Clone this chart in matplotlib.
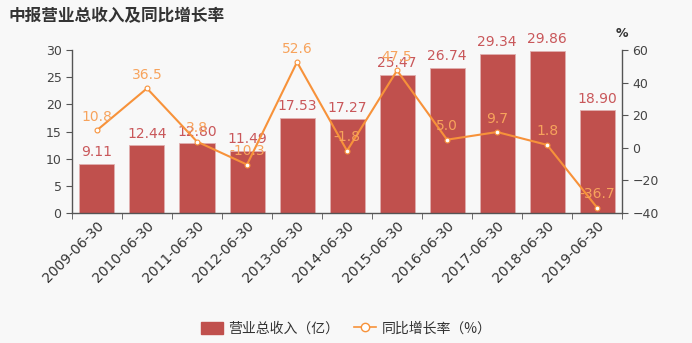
import matplotlib.pyplot as plt
import numpy as np
from matplotlib.patches import Patch
from matplotlib.lines import Line2D

plt.rcParams['font.family'] = ['Noto Sans CJK SC', 'DejaVu Sans']

dates = ["2009-06-30", "2010-06-30", "2011-06-30", "2012-06-30", "2013-06-30",
         "2014-06-30", "2015-06-30", "2016-06-30", "2017-06-30", "2018-06-30",
         "2019-06-30"]
revenue = [9.11, 12.44, 12.80, 11.49, 17.53, 17.27, 25.47, 26.74, 29.34, 29.86, 18.90]
growth = [10.8, 36.5, 3.8, -10.3, 52.6, -1.8, 47.5, 5.0, 9.7, 1.8, -36.7]

BAR_COLOR = "#c0504d"
LINE_COLOR = "#f7923a"
BAR_LABEL = "#c9575a"
LINE_LABEL = "#f7a35c"
AXIS_COLOR = "#555555"
BG = "#f8f8f8"

fig = plt.figure(figsize=(6.92, 3.43), dpi=100, facecolor=BG)
ax = fig.add_axes([0.104, 0.379, 0.795, 0.475], facecolor=BG)
ax2 = ax.twinx()

x = np.arange(len(dates))
ax.bar(x, revenue, width=0.7, color=BAR_COLOR, edgecolor="#e0b0b0", linewidth=0.6, zorder=2)
for xi, v in zip(x, revenue):
    ax.text(xi, v + 0.8, f"{v:.2f}", ha="center", va="bottom", color=BAR_LABEL,
            fontsize=10, family="DejaVu Sans", zorder=3)

ax2.plot(x, growth, color=LINE_COLOR, linewidth=1.5, marker="o", markersize=3.5,
         markerfacecolor="white", markeredgecolor=LINE_COLOR, markeredgewidth=0.8, zorder=4)
for xi, g in zip(x, growth):
    ax2.text(xi, g + 4, f"{g:.1f}", ha="center", va="bottom", color=LINE_LABEL,
             fontsize=10, family="DejaVu Sans", zorder=5)

ax.set_xlim(-0.5, len(dates) - 0.5)
ax.set_ylim(0, 30)
ax.set_yticks([0, 5, 10, 15, 20, 25, 30])
ax2.set_ylim(-40, 60)
ax2.set_yticks([-40, -20, 0, 20, 40, 60])

ax.set_xticks(x)
ax.set_xticklabels(dates, rotation=45, ha="right", rotation_mode="anchor",
                   fontsize=10, family="DejaVu Sans", color="#333333")
ax.tick_params(axis="x", length=0, pad=4)
ax.set_xticks(np.arange(len(dates) + 1) - 0.5, minor=True)
ax.tick_params(axis="x", which="minor", length=4, color=AXIS_COLOR)

for a in (ax, ax2):
    for s in a.spines.values():
        s.set_visible(False)
    a.tick_params(axis="y", length=4, color=AXIS_COLOR, labelcolor="#444444", labelsize=9)
ax.spines["left"].set_visible(True)
ax.spines["bottom"].set_visible(True)
ax2.spines["right"].set_visible(True)
for s in (ax.spines["left"], ax.spines["bottom"], ax2.spines["right"]):
    s.set_color(AXIS_COLOR)
    s.set_linewidth(1)
for lbl in ax.get_yticklabels() + ax2.get_yticklabels():
    lbl.set_family("DejaVu Sans")

ax2.text(1.0, 1.06, "%", transform=ax2.transAxes, ha="center", va="bottom",
         fontsize=9, color="#333333", family="DejaVu Sans", fontweight="bold")

fig.text(0.012, 0.978, "中报营业总收入及同比增长率", ha="left", va="top",
         fontsize=12, fontweight="bold", color="#333333")

handles = [
    Patch(facecolor=BAR_COLOR, edgecolor=BAR_COLOR),
    Line2D([0], [0], color=LINE_COLOR, linewidth=1.2, marker="o", markersize=6,
           markerfacecolor="white", markeredgecolor=LINE_COLOR),
]
fig.legend(handles, ["营业总收入（亿）", "同比增长率（%）"], loc="lower center",
           bbox_to_anchor=(0.5, -0.015), ncol=2, frameon=False, fontsize=10,
           handlelength=1.6, handleheight=0.9, columnspacing=1.0, handletextpad=0.4,
           labelcolor="#333333")

fig.savefig("out.png", dpi=100, facecolor=BG)
